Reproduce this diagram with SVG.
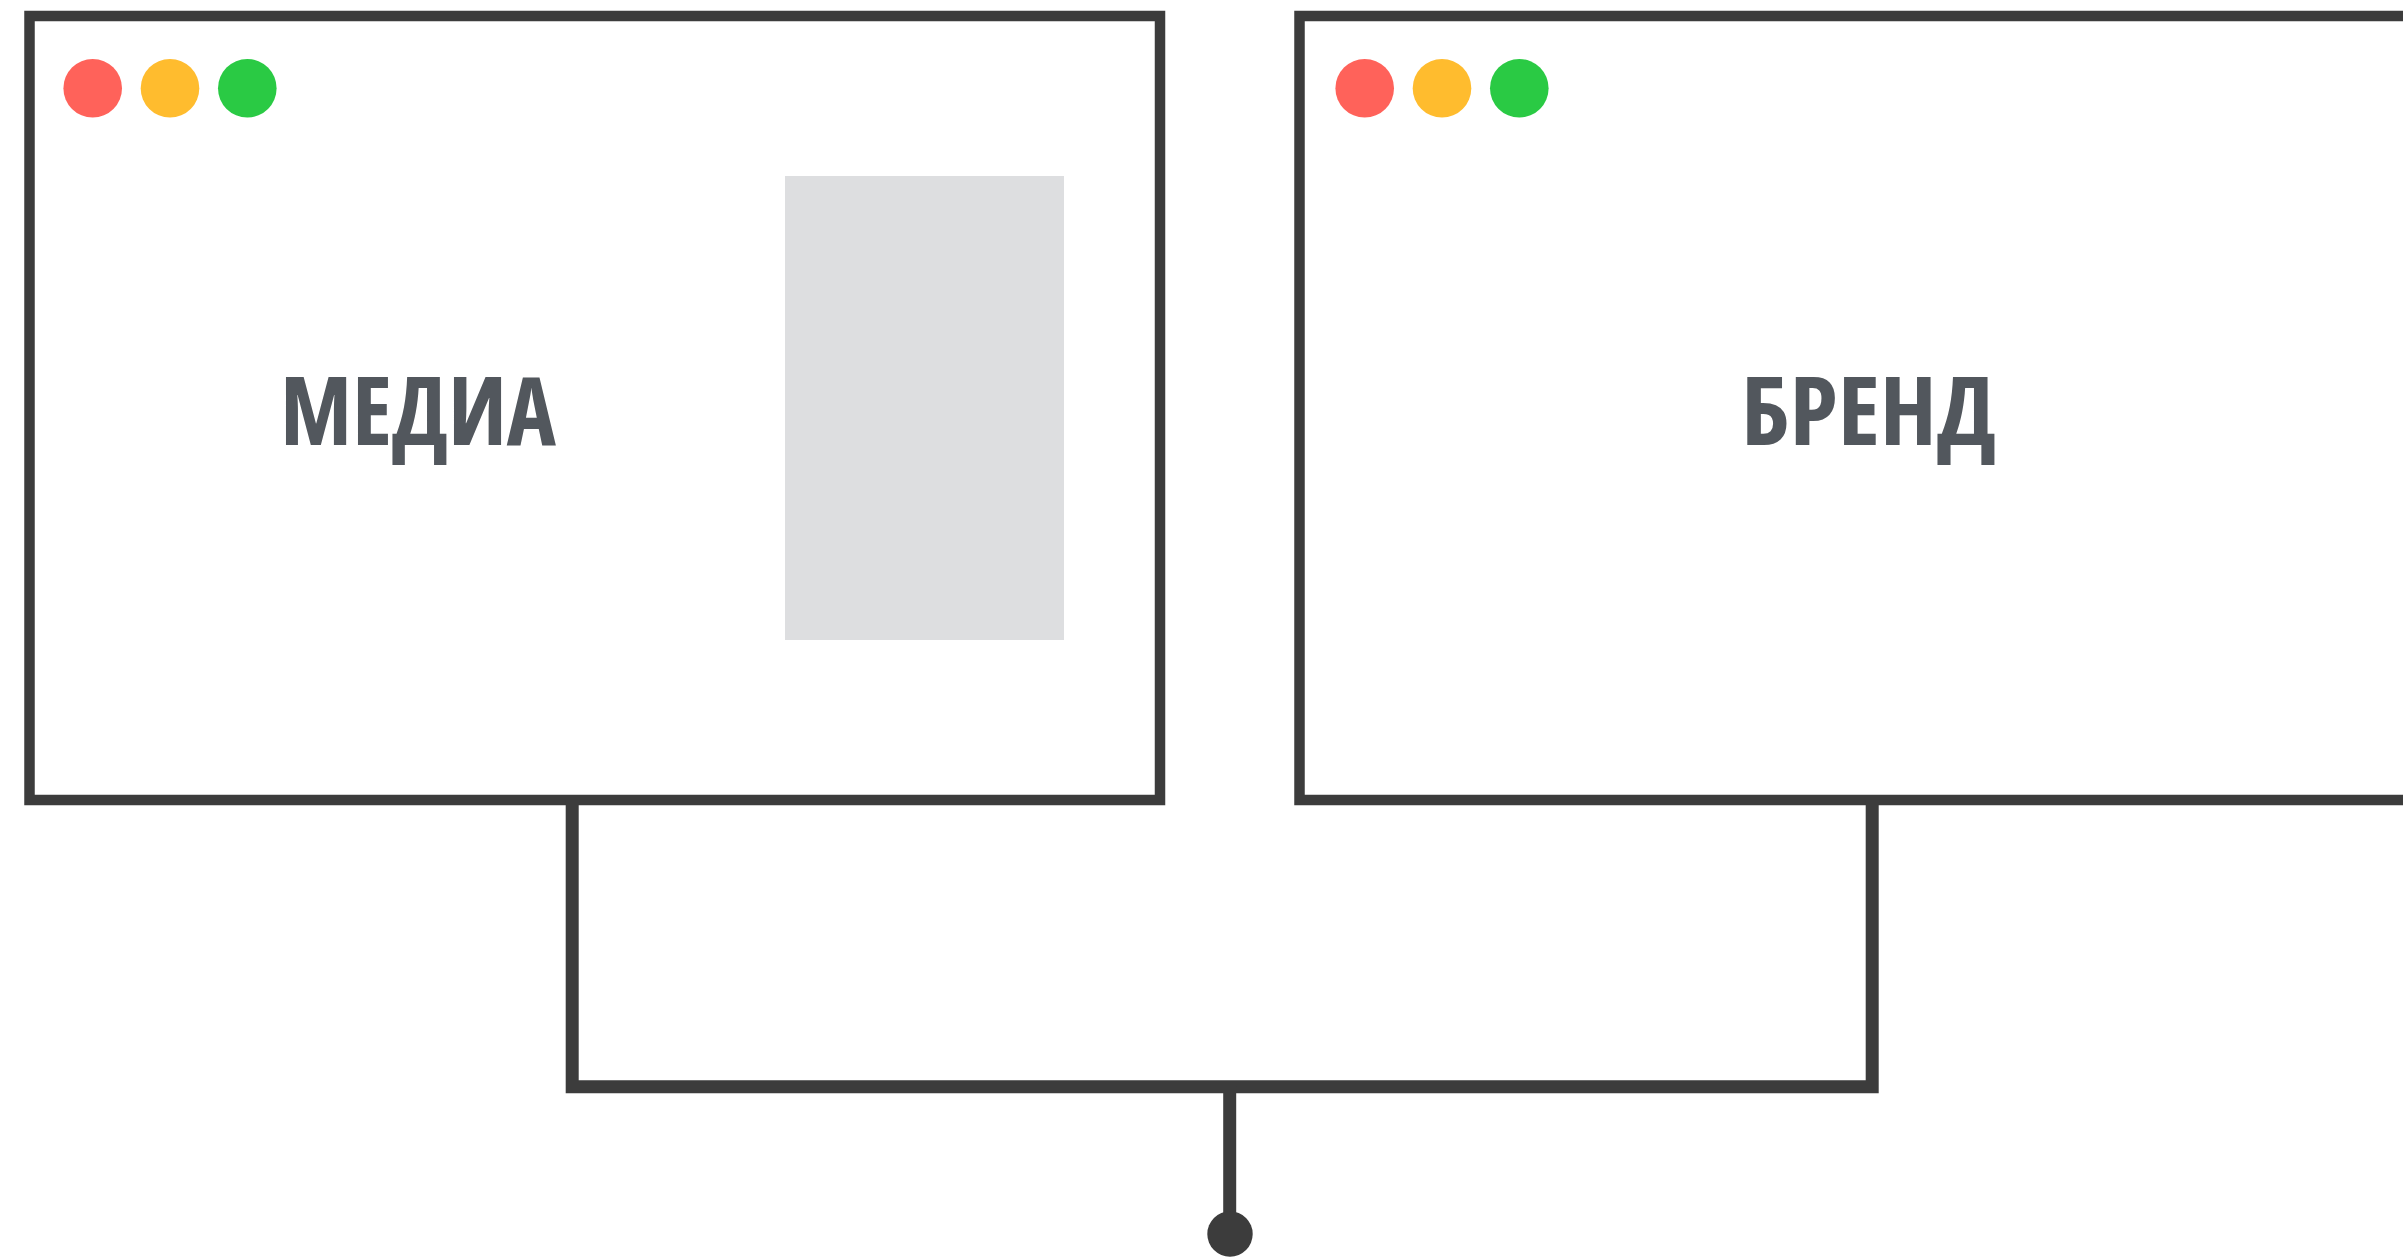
<svg xmlns="http://www.w3.org/2000/svg" width="2403" height="1260" viewBox="0 0 2403 1260">
<style>
.win{fill:#ffffff;stroke:#3c3c3c;stroke-width:10.5}
.red{fill:#ff625a}
.yel{fill:#ffbc2e}
.grn{fill:#2aca44}
.lbl{font-family:"Open Sans",Roboto,"Liberation Sans",sans-serif;font-weight:700;font-stretch:75%;font-size:95px;fill:#52575d}
.con{fill:none;stroke:#3c3c3c;stroke-width:13;stroke-linejoin:miter}
</style>
<rect width="2403" height="1260" fill="#ffffff"/>
<g id="media">
<rect class="win" x="29.5" y="16" width="1130.5" height="784"/>
<circle class="red" cx="92.7" cy="88.3" r="29.3"/>
<circle class="yel" cx="170" cy="88.3" r="29.3"/>
<circle class="grn" cx="247.3" cy="88.3" r="29.3"/>
<rect x="785" y="176" width="279" height="464" fill="#dddee0"/>
<text class="lbl" x="280" y="445" textLength="276" lengthAdjust="spacingAndGlyphs">МЕДИА</text>
</g>
<g id="brand">
<rect class="win" x="1299.5" y="16" width="1200" height="784"/>
<circle class="red" cx="1364.7" cy="88.3" r="29.3"/>
<circle class="yel" cx="1442" cy="88.3" r="29.3"/>
<circle class="grn" cx="1519.3" cy="88.3" r="29.3"/>
<text class="lbl" x="1741" y="445" textLength="255" lengthAdjust="spacingAndGlyphs">БРЕНД</text>
</g>
<g id="connectors">
<path class="con" d="M572.2,800 V1086.7 H1872.2 V800"/>
<path class="con" d="M1229.7,1086.7 V1215"/>
<circle cx="1230" cy="1234" r="22.7" fill="#3c3c3c"/>
</g>
</svg>
